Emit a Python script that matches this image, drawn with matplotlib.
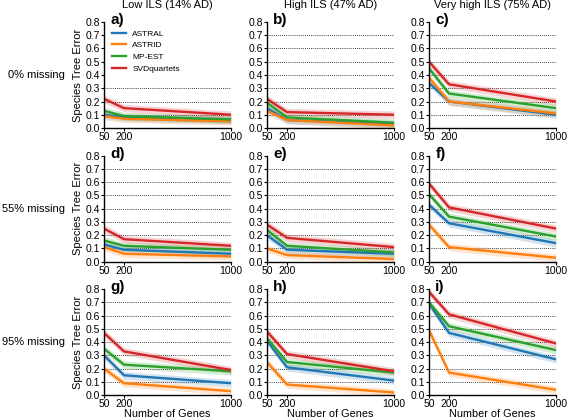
import numpy as np
import matplotlib.pyplot as plt

plt.rcParams['font.family'] = ['Liberation Sans', 'DejaVu Sans']

# Data
genes = [50, 200, 1000]
methods = ["ASTRAL", "ASTRID", "MP-EST", "SVDquartets"]
colors = ["#1f77b4", "#ff7f0e", "#2ca02c", "#d62728"]
col_titles = ["Low ILS (14% AD)", "High ILS (47% AD)", "Very high ILS (75% AD)"]
row_titles = ["0% missing", "55% missing", "95% missing"]
letters = ["a)", "b)", "c)", "d)", "e)", "f)", "g)", "h)", "i)"]

# error[panel][method] at 50, 200, 1000 genes
astral = [[0.10, 0.08, 0.06], [0.15, 0.06, 0.03], [0.34, 0.20, 0.10],
          [0.13, 0.09, 0.06], [0.20, 0.09, 0.06], [0.43, 0.29, 0.14],
          [0.30, 0.15, 0.09], [0.41, 0.21, 0.11], [0.69, 0.47, 0.27]]
astrid = [[0.09, 0.07, 0.05], [0.13, 0.06, 0.02], [0.38, 0.20, 0.11],
          [0.11, 0.06, 0.04], [0.10, 0.05, 0.02], [0.28, 0.11, 0.03],
          [0.20, 0.09, 0.03], [0.25, 0.08, 0.02], [0.49, 0.17, 0.04]]
mpest = [[0.13, 0.09, 0.065], [0.19, 0.08, 0.04], [0.45, 0.26, 0.15],
         [0.16, 0.12, 0.09], [0.24, 0.12, 0.07], [0.51, 0.34, 0.19],
         [0.35, 0.23, 0.18], [0.43, 0.25, 0.17], [0.70, 0.52, 0.34]]
svdq = [[0.22, 0.15, 0.10], [0.22, 0.12, 0.10], [0.50, 0.33, 0.20],
        [0.25, 0.17, 0.12], [0.28, 0.18, 0.11], [0.59, 0.41, 0.25],
        [0.47, 0.33, 0.19], [0.48, 0.31, 0.18], [0.78, 0.61, 0.39]]
band = 0.028

series = [astral, astrid, mpest, svdq]

fig = plt.figure(figsize=(5.67, 4.19), dpi=100)
lefts = [0.1834, 0.4709, 0.7566]
bottoms = [0.6945, 0.3754, 0.0569]
w, h = 0.224, 0.253

for r in range(3):
    for c in range(3):
        p = r * 3 + c
        ax = fig.add_axes([lefts[c], bottoms[r], w, h])
        for m in range(4):
            y = np.array(series[m][p])
            ax.fill_between(genes, y - band, y + band, color=colors[m],
                            alpha=0.2, lw=0)
            ax.plot(genes, y, color=colors[m], lw=1.7, label=methods[m])
        # legend box in panel a hides the upper grid lines
        grid_top = 0.35 if p == 0 else 0.75
        for g in np.arange(0.1, grid_top, 0.1):
            ax.axhline(g, color="black", ls=(0, (1, 1.5)), lw=0.6, zorder=0)
        ax.set_xlim(50, 1000)
        ax.set_ylim(0, 0.8)
        ax.set_xticks(genes)
        ax.set_yticks(np.arange(0, 0.81, 0.1))
        ax.set_yticklabels(["%.1f" % v for v in np.arange(0, 0.81, 0.1)])
        ax.tick_params(length=2, width=0.8, labelsize=7.5, pad=1)
        for s in ["top", "right"]:
            ax.spines[s].set_visible(False)
        for s in ["left", "bottom"]:
            ax.spines[s].set_linewidth(1.0)
        ax.text(0.05, 1.02, letters[p], transform=ax.transAxes,
                fontsize=11, fontweight="bold", va="center", ha="left")
        if r == 0:
            ax.set_title(col_titles[c], fontsize=8, pad=10)
        if c == 0:
            ax.set_ylabel("Species Tree Error", fontsize=8, labelpad=2)
            fig.text(0.114, bottoms[r] + h / 2, row_titles[r], fontsize=8,
                     ha="right", va="center")
        if r == 2:
            ax.set_xlabel("Number of Genes", fontsize=7.8, labelpad=0)
        if p == 0:
            leg = ax.legend(loc="upper left", bbox_to_anchor=(0.02, 0.98),
                            frameon=False, fontsize=6, handlelength=1.6,
                            labelspacing=0.45, borderpad=0.2)

fig.savefig("out.png", dpi=100)
